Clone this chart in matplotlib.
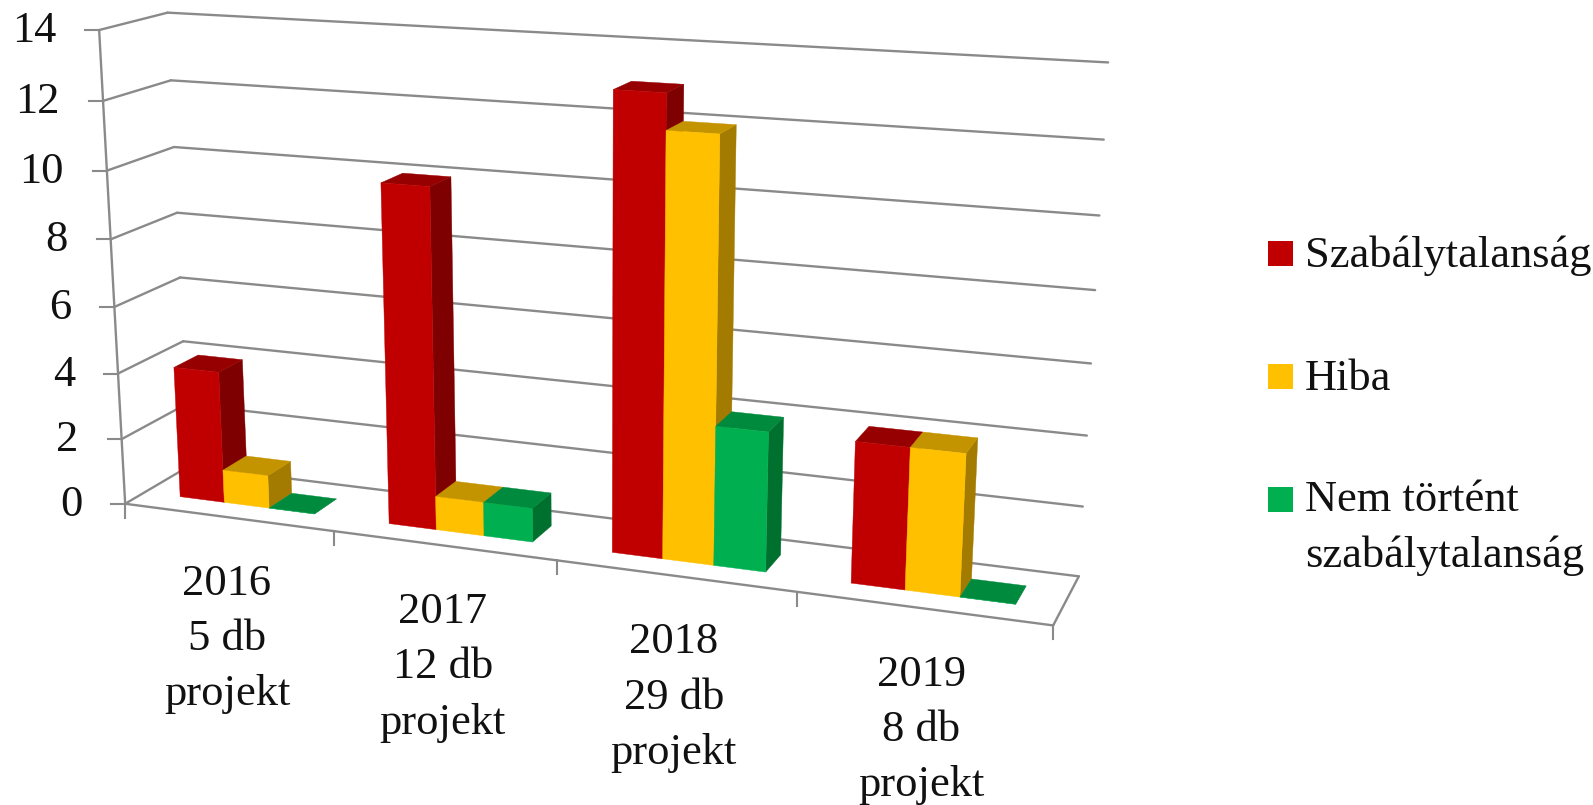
import numpy as np
import matplotlib
matplotlib.use('Agg')
import matplotlib.pyplot as plt
from matplotlib.patches import Polygon, Rectangle

# Chart data
categories = ['2016\n5 db\nprojekt', '2017\n12 db\nprojekt', '2018\n29 db\nprojekt', '2019\n8 db\nprojekt']
series_names = ['Szabálytalanság', 'Hiba', 'Nem történt\nszabálytalanság']
szabalytalansag = [4, 10, 13, 4]
hiba = [1, 1, 12, 4]
nem_tortent = [0, 1, 4, 0]
y_ticks = [0, 2, 4, 6, 8, 10, 12, 14]

# Face colours: front, side, top
red = ['#C00000', '#7F0000', '#960000']
yellow = ['#FFC000', '#A37B00', '#C49300']
green = ['#00B050', '#00702F', '#008A3E']

grey = '#8A8A8A'
text_col = '#111111'
font = 'Liberation Serif'
fsize = 32
lspace = 1.49

# Frame of the 3D box in pixels, used to fit the perspective camera
back_left = [(189, 468), (186, 405), (183, 340), (180, 277), (176, 213), (175, 147), (171, 80), (168, 13)]
front_left = [(125, 504), (122, 439), (119, 373), (115, 305), (111, 239), (106, 171), (103, 101), (98, 31)]
back_right = [(1078, 576), (1082, 505), (1088, 436), (1090, 363), (1096, 290), (1101, 215), (1104, 140), (1107, 63)]
front_right = (1053, 627)


def fit_camera():
    world = []
    pix = []
    for k, v in enumerate(y_ticks):
        world.append((0, v, 1)); pix.append(back_left[k])
        world.append((0, v, 0)); pix.append(front_left[k])
        world.append((4, v, 1)); pix.append(back_right[k])
    world.append((4, 0, 0)); pix.append(front_right)
    rows = []
    rhs = []
    for (x, y, z), (u, v) in zip(world, pix):
        rows.append([x, y, z, 1, 0, 0, 0, 0, -u * x, -u * y, -u * z])
        rhs.append(u)
        rows.append([0, 0, 0, 0, x, y, z, 1, -v * x, -v * y, -v * z])
        rhs.append(v)
    p = np.linalg.lstsq(np.array(rows, float), np.array(rhs, float), rcond=None)[0]
    return np.append(p, 1).reshape(3, 4)


cam = fit_camera()


def project(x, y, z):
    q = cam @ np.array([x, y, z, 1.0])
    return q[0] / q[2], q[1] / q[2]


def line3d(ax, a, b):
    p1 = project(*a)
    p2 = project(*b)
    ax.plot([p1[0], p2[0]], [p1[1], p2[1]], color=grey, lw=1.7, solid_capstyle='round', zorder=1)


def draw_bar(ax, x0, x1, z0, z1, h, cols):
    front = [(x0, 0, z0), (x1, 0, z0), (x1, h, z0), (x0, h, z0)]
    side = [(x1, 0, z0), (x1, 0, z1), (x1, h, z1), (x1, h, z0)]
    top = [(x0, h, z0), (x1, h, z0), (x1, h, z1), (x0, h, z1)]
    faces = [(side, cols[1]), (top, cols[2]), (front, cols[0])]
    for face, c in faces:
        ax.add_patch(Polygon([project(*p) for p in face], closed=True, facecolor=c,
                             edgecolor=c, lw=0.3, zorder=3))


fig = plt.figure(figsize=(15.93, 8.05), dpi=100)
ax = fig.add_axes([0, 0, 1, 1])
ax.set_xlim(0, 1593)
ax.set_ylim(805, 0)
ax.axis('off')

n = len(categories)

# Walls and floor
for v in y_ticks:
    line3d(ax, (0, v, 0), (0, v, 1))
    line3d(ax, (0, v, 1), (n, v, 1))
line3d(ax, (0, 0, 0), (0, 14, 0))
line3d(ax, (0, 0, 0), (n, 0, 0))
line3d(ax, (n, 0, 0), (n, 0, 1))

# Tick marks and value labels
for v in y_ticks:
    u1, v1 = project(0, v, 0)
    ax.plot([u1 - 14, u1], [v1, v1], color=grey, lw=1.5, zorder=1)
    ax.text(u1 - 43, v1 + 1, str(v), ha='right', va='center', family=font, fontsize=fsize, color=text_col)
for i in range(n + 1):
    u1, v1 = project(i, 0, 0)
    ax.plot([u1, u1], [v1, v1 + 14], color=grey, lw=1.5, zorder=1)

# Bars
gap = 0.175
bar_w = 0.2167
z0, z1 = 0.3, 0.68
for i in range(n):
    for k, (vals, cols) in enumerate(zip([szabalytalansag, hiba, nem_tortent], [red, yellow, green])):
        x0 = i + gap + k * bar_w
        draw_bar(ax, x0, x0 + bar_w, z0, z1, vals[i], cols)

# Category labels, anchored on the baseline of the last line
for i, lab in enumerate(categories):
    u1, v1 = project(i + 0.5, 0, 0)
    ax.text(u1 - 1, v1 + 188, lab, ha='center', va='baseline', family=font, fontsize=fsize,
            linespacing=lspace, color=text_col)

# Legend
legend_box_y = [241, 364, 487]
legend_text_y = [267, 390, 567]
for name, by, ty, cols in zip(series_names, legend_box_y, legend_text_y, [red, yellow, green]):
    ax.add_patch(Rectangle((1268, by), 25, 25, facecolor=cols[0], edgecolor='none'))
    ax.text(1305, ty, name, ha='left', va='baseline', family=font, fontsize=fsize,
            linespacing=lspace, color=text_col)

fig.savefig('out.png', dpi=100)
